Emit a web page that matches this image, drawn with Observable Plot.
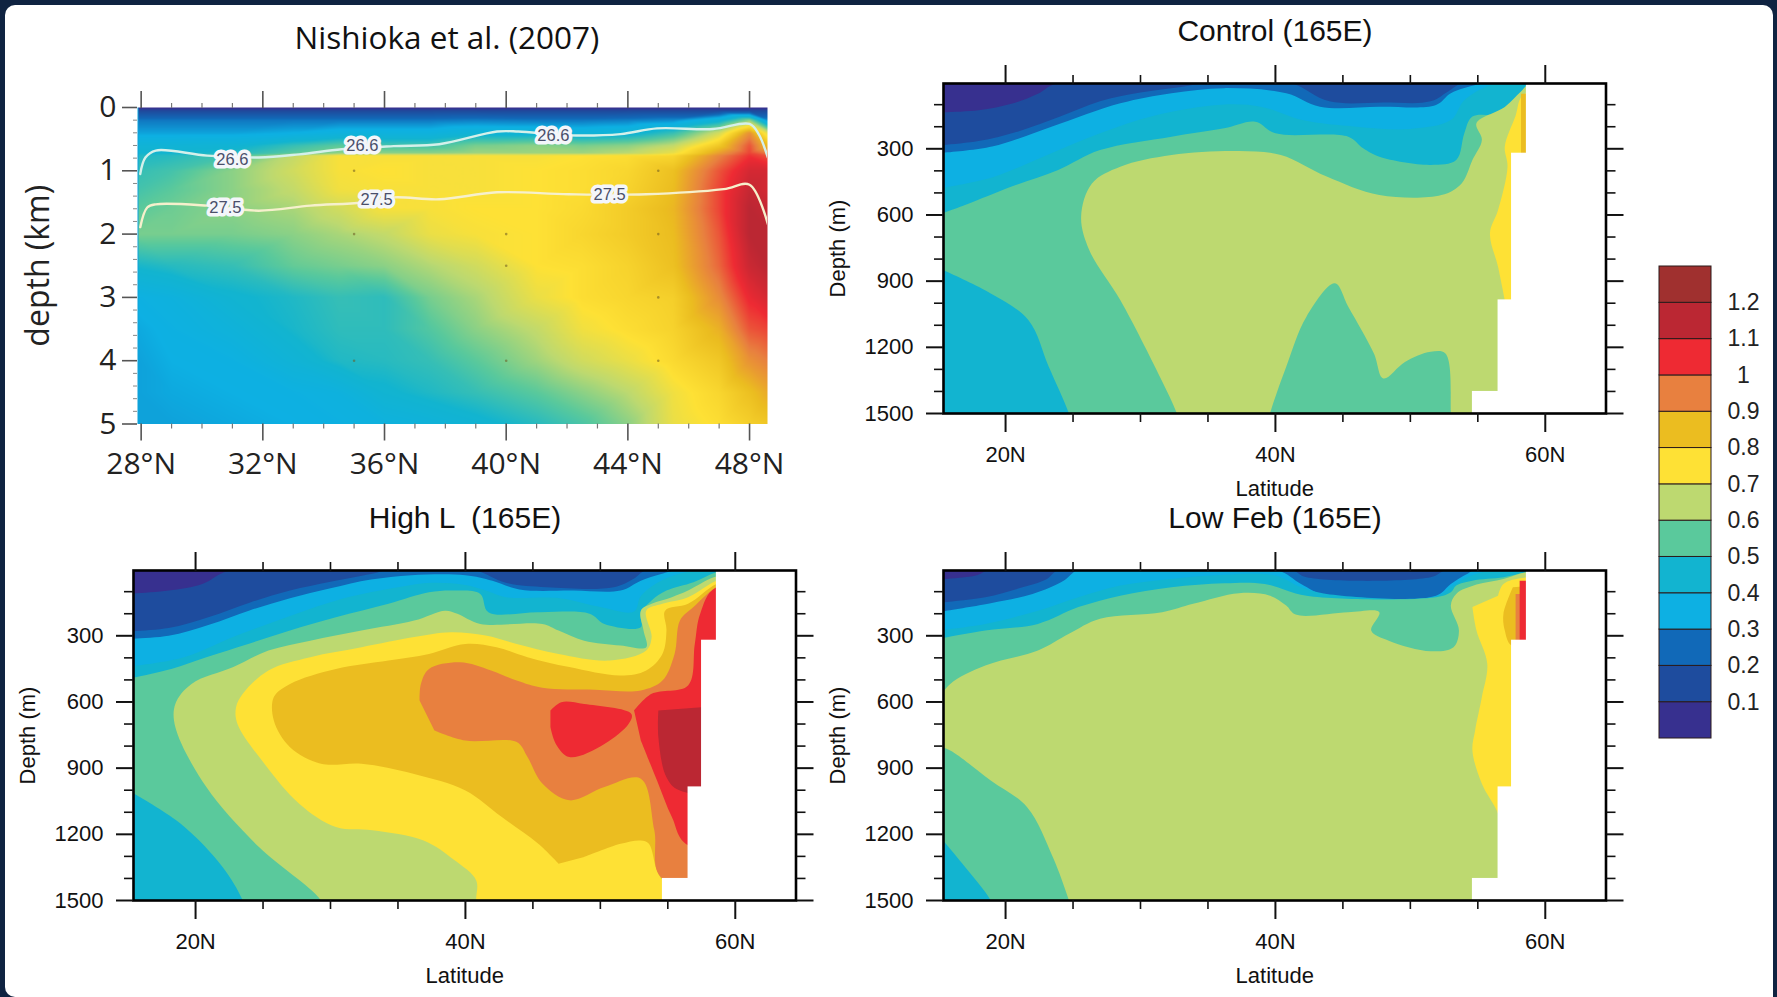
<!DOCTYPE html>
<html>
<head>
<meta charset="utf-8">
<script src="https://cdn.jsdelivr.net/npm/d3@7"></script>
<script src="https://cdn.jsdelivr.net/npm/@observablehq/plot@0.6"></script>
<style>
html,body{margin:0;padding:0;width:1777px;height:997px;overflow:hidden;background:#0f2341}
#page{position:absolute;left:5px;top:5px;width:1768px;height:992px;background:#fff;border-radius:10px 10px 0 10px}
#root{position:absolute;left:0;top:0;width:1777px;height:997px}
.ttl{position:absolute;transform:translate(-50%,-50%);white-space:pre;color:#111;font-family:"Liberation Sans",sans-serif}
#root svg{position:absolute;display:block}
</style>
</head>
<body>
<div id="page"></div>
<div id="root"></div>
<script>
// ---------- colour bar ----------
const colorTicks = [0.1,0.2,0.3,0.4,0.5,0.6,0.7,0.8,0.9,1,1.1,1.2];
const colorBinsLo = [0,0.1,0.2,0.3,0.4,0.5,0.6,0.7,0.8,0.9,1,1.1,1.2];
const colorBinsHi = [0.1,0.2,0.3,0.4,0.5,0.6,0.7,0.8,0.9,1,1.1,1.2,1.3];
const palette = ["#37308f","#1e4c9e","#1169b8","#0db0e3","#12b4d0","#5ac99c","#bdd970","#fee135","#ebbd20","#e8803f","#ee2a33","#bb2733","#a0302f"];
const binCentres = [0.05,0.15,0.25,0.35,0.45,0.55,0.65,0.75,0.85,0.95,1.05,1.15,1.25];

// ---------- land (white) at the northern end of the 165E sections ----------
const landLat = [58.6,57.5,56.5,54.6];
const landTop = [0,320,985,1400];
const landBottom = 1500;
const landEast = 70;

// ---------- Nishioka et al. (2007) section ----------
const nishiokaLat = [27.9,29,31,33,34.5,36,37.5,39,41,42.5,44,45.5,47,48,48.6];
const nishiokaDepth = [0,0.05,0.2,0.4,0.6,0.72,0.76,1,1.3,1.6,2,2.5,3,3.5,4,4.5,5];
const nishiokaValues = [
 [.03,.03,.03,.03,.03,.03,.03,.03,.03,.03,.03,.03,.03,.03,.03],
 [.14,.14,.14,.14,.14,.14,.14,.14,.14,.14,.14,.14,.14,.14,.14],
 [.27,.27,.27,.27,.27,.27,.27,.28,.27,.27,.28,.3,.42,.6,.3],
 [.33,.33,.33,.35,.38,.38,.38,.42,.42,.4,.42,.5,.68,.92,.7],
 [.42,.42,.43,.5,.55,.52,.52,.58,.6,.58,.6,.66,.82,1,.85],
 [.45,.45,.47,.55,.6,.6,.6,.62,.62,.62,.65,.72,.9,1.02,.95],
 [.47,.48,.52,.66,.74,.74,.74,.74,.74,.75,.76,.78,.94,1.04,1],
 [.5,.52,.6,.68,.74,.75,.74,.74,.75,.76,.78,.84,1,1.1,1.1],
 [.52,.55,.6,.66,.73,.74,.74,.74,.75,.76,.79,.85,1.02,1.13,1.1],
 [.55,.57,.6,.63,.68,.74,.74,.75,.75,.77,.81,.86,1.02,1.15,1.13],
 [.58,.58,.58,.6,.63,.66,.72,.74,.75,.78,.81,.85,1,1.15,1.15],
 [.46,.48,.5,.56,.58,.6,.64,.68,.75,.76,.79,.84,.98,1.12,1.15],
 [.36,.38,.44,.47,.5,.49,.58,.63,.72,.76,.78,.8,.93,1.06,1.1],
 [.34,.36,.4,.46,.49,.49,.54,.6,.66,.73,.76,.79,.87,1,1.02],
 [.33,.35,.36,.42,.47,.48,.5,.55,.62,.68,.72,.77,.82,.92,.95],
 [.33,.34,.35,.36,.38,.44,.47,.5,.55,.6,.65,.73,.78,.84,.88],
 [.33,.33,.34,.35,.36,.38,.4,.43,.48,.53,.6,.72,.76,.8,.82]
];
const isopycnal266 = [[27.97,1.05],[28.14,.79],[28.48,.68],[30.17,.76],[31.87,.79],[33.2,.74],[34.6,.66],[36.3,.61],[37.8,.58],[39.7,.38],[40.4,.38],[42.05,.44],[43.76,.42],[44.96,.33],[46.8,.34],[48,.26],[48.3,.42],[48.6,.79]];
const isopycnal275 = [[27.97,1.89],[28.2,1.58],[28.48,1.53],[30.17,1.55],[31.87,1.63],[33.57,1.55],[35.27,1.5],[36.3,1.42],[37.8,1.45],[39.7,1.34],[42.05,1.37],[44.6,1.37],[47.15,1.29],[48,1.22],[48.6,1.84]];
const isoLabelText = ["26.6","26.6","26.6","27.5","27.5","27.5"];
const isoLabelLat = [31,35.27,41.55,30.77,35.74,43.4];
const isoLabelDepth = [.82,.6,.44,1.59,1.46,1.38];
const stationLat = [35,35,40,40,45,45,45,45,35,40];
const stationDepth = [1,2,2,2.5,1,2,3,4,4,4];

// ---------- Control (165E): isolines [lat, depth], region at or above each level ----------
const control01 = [[15,135],[18,125],[20.5,95],[22.4,50],[24,0],[70,0],[70,1600],[15,1600]];
const control02 = [[15,285],[18,265],[21,220],[24,155],[27,85],[30,45],[33,20],[35,0],[41,0],[44,85],[48,90],[51.5,85],[52.8,40],[54,0],[70,0],[70,1600],[15,1600]];
const control03 = [[15,320],[19,290],[23.4,200],[28.5,94],[32.3,48],[36.2,25],[40.8,48],[43.3,109],[47.7,109],[51.9,101],[53,48],[54.9,10],[56,0],[70,0],[70,1600],[15,1600]];
const control04 = [[15,480],[19,430],[23,330],[27,230],[31,150],[36,100],[39,110],[42,170],[46,200],[50,210],[53,170],[54,80],[56,10],[57.5,0],[70,0],[70,1600],[15,1600]];
const control05 = [[15,600],[17,555],[20.5,470],[23.9,396],[27,306],[32.3,245],[36.2,207],[38.5,177],[40,230],[45.4,245],[46.5,298],[47.7,336],[51.5,373],[53.4,351],[54,230],[54.6,154],[56.9,139],[58.4,33],[59,0],[70,0],[70,1600],[25.2,1600],[24.7,1500],[23.2,1288],[21.7,1077],[18.9,956],[15,840]];
const control06 = [[33.2,1600],[32.7,1500],[31.5,1341],[28.5,986],[26.2,759],[25.6,608],[26.4,457],[28.5,381],[32.3,328],[37.3,310],[40.4,328],[43.8,426],[47.7,510],[52.3,510],[53.8,457],[54.6,351],[55.3,260],[54.9,184],[57,110],[58.2,40],[59,0],[70,0],[70,1600],[53,1600],[53,1500],[52.6,1228],[51.5,1220],[49.6,1266],[48,1341],[47.3,1228],[45.4,1016],[44.4,910],[42.3,1061],[40.8,1288],[39.6,1500],[39.2,1600]];
const control07 = [[57,986],[56.5,835],[55.9,683],[56.5,578],[57.2,381],[57,290],[57.8,150],[58.3,60],[60,30],[70,30],[70,1100]];
const control08 = [[58.2,50],[58.2,320],[70,320],[70,50]];

// ---------- High L (165E) ----------
const highL01 = [[15,110],[18,95],[20.5,65],[22,15],[23,0],[70,0],[70,1600],[15,1600]];
const highL02 = [[15,280],[18,265],[21,215],[24,150],[27,95],[30,55],[33,20],[34.5,0],[40.5,0],[43,60],[46,80],[51,80],[52.5,40],[53.5,0],[70,0],[70,1600],[15,1600]];
const highL03 = [[15,314],[18,300],[21,250],[24,185],[27,130],[30,85],[33,45],[36,25],[40,25],[42,50],[44,90],[48,95],[51.5,95],[53,50],[54.5,20],[56,0],[70,0],[70,1600],[15,1600]];
const highL04 = [[15,440],[19,400],[23,300],[27,210],[31,130],[35,80],[37.5,60],[40,70],[41.5,95],[43,125],[47,130],[50,170],[52.5,190],[53,120],[54.5,50],[56.5,10],[58,0],[70,0],[70,1600],[15,1600]];
const highL05 = [[15,495],[18.2,450],[20.8,397],[23.9,337],[27,276],[30.4,216],[34.3,155],[37.3,103],[39.2,95],[41.1,110],[41.7,193],[45.4,193],[49.2,200],[50.3,246],[53,261],[53,200],[53.8,140],[54.9,95],[56.9,57],[58.6,12],[60,0],[70,0],[70,1600],[24,1600],[23.5,1500],[22,1348],[18.9,1152],[15,1000]];
const highL06 = [[30,1600],[29.3,1500],[24.7,1258],[20.8,986],[18.5,714],[18.5,609],[19.7,518],[22.8,442],[25.4,367],[28.5,322],[32.3,276],[36.2,231],[38.5,186],[39.4,200],[41.1,246],[45.7,246],[46.9,276],[48.8,322],[51.5,344],[53.4,352],[53.2,276],[53,186],[53.8,155],[55.3,125],[56.5,95],[58.4,35],[60,15],[70,15],[70,1600]];
const highL07 = [[41,1600],[40.8,1500],[40.8,1409],[39.2,1318],[36.9,1228],[33.1,1182],[30.4,1167],[27.7,1062],[25.1,880],[23.1,699],[23,624],[23.5,563],[25.4,457],[28.5,397],[32.3,352],[36.2,306],[38.9,284],[41.5,299],[43.8,337],[46.9,382],[50.7,412],[53.4,367],[53.8,306],[53.4,186],[54.6,155],[56.5,125],[58.6,50],[60,30],[70,30],[70,1600]];
const highL08 = [[46.9,1333],[45.4,1243],[42.7,1122],[40,1001],[36.2,926],[32.3,880],[29.3,880],[27,805],[25.8,684],[25.8,578],[27,518],[30.4,450],[34.3,412],[37.3,382],[40,337],[42.3,352],[44.6,397],[47.7,442],[51.5,480],[53.4,457],[54.6,382],[54.9,276],[54.8,186],[56.5,155],[58.6,65],[60,45],[70,45],[70,1410],[54.75,1409],[54.2,1364],[53.6,1243],[53,1228],[51.5,1243],[48.8,1303]];
const highL09 = [[36.6,593],[36.7,518],[37.3,450],[39.6,420],[41.9,457],[43.8,503],[45.7,536],[49.6,545],[53,548],[54.6,503],[55.5,382],[55.9,231],[56.9,170],[58.6,80],[60,60],[70,60],[70,1405],[54.6,1401],[54,1182],[53,948],[50.3,986],[47.7,1046],[45.7,970],[44.6,850],[43.8,782],[40,775],[37.7,729]];
const highL10a = [[46.3,639],[47.1,601],[48.8,609],[52.3,654],[52.1,699],[50.3,790],[47.7,850],[46.7,790],[46.3,714]];
const highL10b = [[52.5,639],[53.8,563],[56.5,525],[57,337],[57.4,200],[58.6,80],[70,80],[70,1250],[56.5,1250],[55.3,1122],[54.2,956],[53,775]];
const highL11 = [[54.3,639],[54.3,760],[54.9,941],[55.9,1001],[70,1001],[70,624],[57.5,624]];

// ---------- Low Feb (165E) ----------
const lowFeb01 = [[15,45],[17.8,27],[18.9,0],[70,0],[70,1600],[15,1600]];
const lowFeb02 = [[15,150],[18.5,125],[21,85],[23,45],[24,0],[41.1,0],[42.3,35],[51.5,35],[52.8,0],[70,0],[70,1600],[15,1600]];
const lowFeb03 = [[15,192],[18.9,152],[22,110],[24.3,50],[25.2,5],[25.5,0],[40,0],[41.9,65],[43.8,118],[51.9,118],[53,65],[54.2,20],[54.9,0],[70,0],[70,1600],[15,1600]];
const lowFeb04 = [[15,275],[18.5,246],[22.4,186],[25.4,125],[28.5,72],[32.3,42],[36.2,23],[40,27],[41.9,80],[43.8,110],[51.9,122],[53,80],[54.2,35],[55.3,12],[56,0],[70,0],[70,1600],[15,1600]];
const lowFeb05 = [[15,314],[18.5,276],[22.4,246],[25.4,170],[28.5,118],[32.3,80],[36.2,62],[39.2,65],[42.3,118],[51.9,125],[53,103],[53.4,72],[54.6,50],[56.9,35],[58.6,12],[60,5],[70,5],[70,1600],[19.5,1600],[18.9,1500],[17,1348],[15,1200]];
const lowFeb06 = [[15,590],[15.9,518],[18.5,435],[22.4,367],[24.7,291],[27,223],[31.6,193],[33.9,155],[37.3,107],[39.6,118],[40.8,163],[41.5,204],[45.4,193],[47.7,193],[47.1,276],[48.4,322],[51.5,370],[53.2,352],[53.6,276],[53,163],[53.4,110],[54.9,68],[56.9,42],[58.6,12],[60,5],[70,5],[70,1600],[25.2,1600],[24.7,1500],[23.5,1303],[21.6,1077],[18.9,956],[15.9,820],[15,800]];
const lowFeb07 = [[54.6,170],[54.9,276],[55.7,427],[55.3,578],[54.8,729],[54.6,820],[55.3,971],[56.5,1107],[57,1258],[70,1258],[70,40],[58.6,35],[56.9,65],[56.5,118]];
const lowFeb08 = [[57.6,80],[56.9,200],[57,276],[57.5,344],[60,344],[70,344],[70,70],[60,70]];
const lowFeb09 = [[57.8,110],[57.8,329],[70,329],[70,110]];
const lowFeb10 = [[58.1,50],[58.1,329],[70,329],[70,50]];

// ---------- axis ticks ----------
const latMajor = [20,40,60];
const latMinor = [25,30,35,45,50,55];
const depthMajor = [300,600,900,1200,1500];
const depthMinor = [100,200,400,500,700,800,1000,1100,1300,1400];
const nishiokaLatTicks = [28,32,36,40,44,48];
const nishiokaLatMinor = [29,30,31,33,34,35,37,38,39,41,42,43,45,46,47];
const nishiokaDepthTicks = [0,1,2,3,4,5];
const nishiokaDepthMinor = [.2,.4,.6,.8,1.2,1.4,1.6,1.8,2.2,2.4,2.6,2.8,3.2,3.4,3.6,3.8,4.2,4.4,4.6,4.8];

const root = document.getElementById("root");
const SANS = '"Liberation Sans",sans-serif';
const OPEN = '"Open Sans",sans-serif';
const M = {l:125,r:45,t:40,b:95};

function place(svg, left, top){ svg.style.left = left+"px"; svg.style.top = top+"px"; root.appendChild(svg); }
function title(txt, x, y, size, font){
  const d = document.createElement("div"); d.className="ttl"; d.textContent=txt;
  d.style.left=x+"px"; d.style.top=y+"px"; d.style.fontSize=size+"px"; if(font) d.style.fontFamily=font; root.appendChild(d);
}
const band = (pts,t,curve="catmull-rom") => Plot.line(pts,{x:d=>d[0],y:d=>d[1],fill:()=>t,stroke:"none",curve,clip:true});
const landRows = landLat.map((l,i)=>({lat:l,top:landTop[i],bottom:landBottom,east:landEast}));

function section(levels, frameLeft, frameTop){
  const w = 662.5, h = 330;
  const fs = 22;
  const svg = Plot.plot({
    width:w+M.l+M.r, height:h+M.t+M.b,
    marginLeft:M.l, marginRight:M.r, marginTop:M.t, marginBottom:M.b,
    style:{background:"transparent",overflow:"visible",maxWidth:"none",fontFamily:SANS,color:"#111"},
    x:{domain:[15.4,64.5]},
    y:{domain:[4,1500],reverse:true},
    color:{type:"threshold",domain:colorTicks,range:palette},
    marks:[
      Plot.frame({fill:palette[0],stroke:"none"}),
      ...levels.map(([pts,t,c])=>band(pts,t,c)),
      Plot.rect(landRows,{x1:"lat",x2:"east",y1:"top",y2:"bottom",fill:"white",clip:true}),
      Plot.frame({stroke:"#000",strokeWidth:2.6}),
      Plot.axisX({anchor:"bottom",ticks:latMajor,tickSize:19,tickPadding:14,strokeWidth:2,fontSize:fs,tickFormat:d=>d+"N",label:"Latitude",labelAnchor:"center",labelArrow:false,labelOffset:82}),
      Plot.axisX({anchor:"bottom",ticks:latMinor,tickSize:9,strokeWidth:1.6,tickFormat:()=>"",label:null}),
      Plot.axisX({anchor:"top",ticks:latMajor,tickSize:19,strokeWidth:2,tickFormat:()=>"",label:null}),
      Plot.axisX({anchor:"top",ticks:latMinor,tickSize:9,strokeWidth:1.6,tickFormat:()=>"",label:null}),
      Plot.axisY({anchor:"left",ticks:depthMajor,tickSize:17,tickPadding:13,strokeWidth:2,fontSize:fs,tickFormat:d=>String(d),label:"Depth (m)",labelAnchor:"center",labelArrow:false,labelOffset:114}),
      Plot.axisY({anchor:"left",ticks:depthMinor,tickSize:9,strokeWidth:1.6,tickFormat:()=>"",label:null}),
      Plot.axisY({anchor:"right",ticks:depthMajor,tickSize:17,strokeWidth:2,tickFormat:()=>"",label:null}),
      Plot.axisY({anchor:"right",ticks:depthMinor,tickSize:9,strokeWidth:1.6,tickFormat:()=>"",label:null})
    ]
  });
  place(svg, frameLeft-M.l, frameTop-M.t);
}

// Control
section([[control01,.1],[control02,.2],[control03,.3],[control04,.4],[control05,.5],[control06,.6],[control07,.7],[control08,.8,"linear"]], 943, 83);
// High L
section([[highL01,.1],[highL02,.2],[highL03,.3],[highL04,.4],[highL05,.5],[highL06,.6],[highL07,.7],[highL08,.8],[highL09,.9],[highL10a,1],[highL10b,1],[highL11,1.1]], 133, 570);
// Low Feb
section([[lowFeb01,.1],[lowFeb02,.2],[lowFeb03,.3],[lowFeb04,.4],[lowFeb05,.5],[lowFeb06,.6],[lowFeb07,.7],[lowFeb08,.8],[lowFeb09,.9,"linear"],[lowFeb10,1,"linear"]], 943, 570);

// Nishioka
(function(){
  const w = 630, h = 316.5;
  const table = nishiokaDepth.flatMap((d,i)=>nishiokaLat.map((l,j)=>({lat:l,depth:d,v:nishiokaValues[i][j]})));
  const isoLabels = isoLabelText.map((t,i)=>({t,lat:isoLabelLat[i],depth:isoLabelDepth[i]}));
  const stations = stationLat.map((l,i)=>({lat:l,depth:stationDepth[i]}));
  const svg = Plot.plot({
    width:w+M.l+M.r, height:h+M.t+M.b,
    marginLeft:M.l, marginRight:M.r, marginTop:M.t, marginBottom:M.b,
    style:{background:"transparent",overflow:"visible",maxWidth:"none",fontFamily:OPEN,color:"#222"},
    x:{domain:[27.88,48.59]},
    y:{domain:[0,5],reverse:true},
    color:{type:"linear",domain:binCentres,range:palette,interpolate:"rgb",clamp:true},
    marks:[
      Plot.raster(table,{x:"lat",y:"depth",fill:"v",interpolate:"barycentric",pixelSize:1}),
      Plot.dot(stations,{x:"lat",y:"depth",r:1.3,fill:"#6b5a20",fillOpacity:.55}),
      Plot.line(isopycnal266,{x:d=>d[0],y:d=>d[1],stroke:"#d4f0ea",strokeWidth:2.4,curve:"catmull-rom",clip:true}),
      Plot.line(isopycnal275,{x:d=>d[0],y:d=>d[1],stroke:"#f6f0cc",strokeWidth:2.4,curve:"catmull-rom",clip:true}),
      Plot.text(isoLabels,{x:"lat",y:"depth",text:"t",fill:"#4a4f6a",stroke:"#f4f6fa",strokeWidth:7,fontSize:16.5,fontFamily:SANS}),
      Plot.axisX({anchor:"bottom",ticks:nishiokaLatTicks,tickSize:17,tickPadding:12,stroke:"#555",strokeWidth:1.6,fontSize:30,tickFormat:d=>d+"°N",label:null}),
      Plot.axisX({anchor:"bottom",ticks:nishiokaLatMinor,tickSize:5,stroke:"#777",strokeWidth:1.2,tickFormat:()=>"",label:null}),
      Plot.axisX({anchor:"top",ticks:nishiokaLatTicks,tickSize:17,stroke:"#555",strokeWidth:1.6,tickFormat:()=>"",label:null}),
      Plot.axisX({anchor:"top",ticks:nishiokaLatMinor,tickSize:5,stroke:"#777",strokeWidth:1.2,tickFormat:()=>"",label:null}),
      Plot.axisY({anchor:"left",ticks:nishiokaDepthTicks,tickSize:15,tickPadding:6,stroke:"#555",strokeWidth:1.6,fontSize:30,tickFormat:d=>String(d),label:null}),
      Plot.axisY({anchor:"left",ticks:[],fontSize:32,label:"depth (km)",labelAnchor:"center",labelArrow:false,labelOffset:111}),
      Plot.axisY({anchor:"left",ticks:nishiokaDepthMinor,tickSize:4,stroke:"#888",strokeWidth:1,tickFormat:()=>"",label:null})
    ]
  });
  place(svg, 137-M.l, 107-M.t);
})();

// Colour bar
(function(){
  const bins = colorBinsLo.map((lo,i)=>({lo,hi:colorBinsHi[i]}));
  const svg = Plot.plot({
    width:52+70, height:472+20,
    marginLeft:0, marginRight:70, marginTop:10, marginBottom:10,
    style:{background:"transparent",overflow:"visible",maxWidth:"none",fontFamily:SANS,color:"#222"},
    x:{domain:[0,1],axis:null},
    y:{domain:[0,1.3],axis:null},
    color:{type:"threshold",domain:colorTicks,range:palette},
    marks:[
      Plot.rect(bins,{x1:()=>0,x2:()=>1,y1:"lo",y2:"hi",fill:"lo",stroke:"#2a1a1a",strokeWidth:1}),
      Plot.text(colorTicks,{y:d=>d,text:d=>String(d),frameAnchor:"right",dx:32,fontSize:23,textAnchor:"middle",fill:"#222"})
    ]
  });
  place(svg, 1659, 256);
})();

title("Nishioka et al. (2007)", 447, 36, 31.5, OPEN);
title("Control (165E)", 1275, 31, 30);
title("High L  (165E)", 465, 518, 30);
title("Low Feb (165E)", 1275, 518, 30);
</script>
</body>
</html>
